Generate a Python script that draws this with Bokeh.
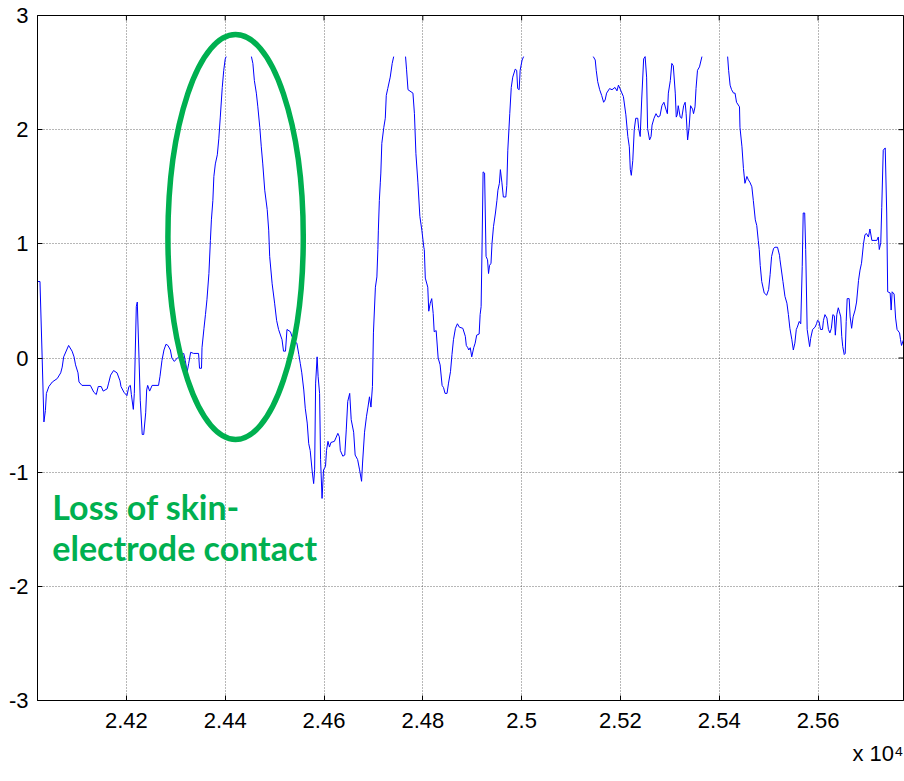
import math
from bokeh.plotting import figure
from bokeh.models import Range1d, FixedTicker, Title
from bokeh.models import Label
from bokeh.embed import file_html
from bokeh.resources import INLINE

nan = float("nan")

# ---- data (sample index, amplitude); NaN marks the clipped / lost segments ----
sig_x = [
    24021, 24025, 24029, 24033, 24036, 24038, 24043, 24050, 24060, 24067, 24070, 24073,
    24079, 24083, 24090, 24094, 24097, 24102, 24104, 24110, 24127, 24134, 24139, 24143,
    24149, 24153, 24161, 24164, 24168, 24174, 24181, 24187, 24189, 24195, 24201, 24205,
    24208, 24210, 24214, 24216, 24220, 24222, 24225, 24228, 24232, 24235, 24239, 24241,
    24243, 24247, 24252, 24265, 24268, 24272, 24276, 24280, 24284, 24289, 24292, 24297,
    24303, 24309, 24316, 24319, 24323, 24326, 24330, 24336, 24346, 24348, 24352, 24353,
    24357, 24360, 24363, 24367, 24370, 24372, 24375, 24377, 24380, 24384, 24387, 24390,
    24394, 24397, 24400, 24402,
    24427,
    24453, 24456, 24459, 24463, 24466, 24470, 24473, 24476, 24480, 24485, 24488, 24490,
    24495, 24500, 24504, 24508, 24515, 24518, 24522, 24525, 24532, 24535, 24542, 24545,
    24549, 24552, 24555, 24559, 24562, 24566, 24569, 24572, 24576, 24579, 24581, 24583,
    24586, 24588, 24591, 24593, 24596, 24599, 24603, 24605, 24608, 24611, 24614, 24621,
    24624, 24628, 24631, 24633, 24638, 24642, 24645, 24648, 24652, 24655, 24660, 24663,
    24668, 24672, 24676, 24678, 24682, 24686, 24689, 24692, 24695, 24698, 24700, 24704,
    24707, 24709, 24710, 24712, 24714, 24715, 24717, 24721, 24724, 24726, 24729, 24734,
    24738, 24741,
    24753,
    24765, 24767, 24770, 24780, 24783, 24786, 24790, 24794, 24798, 24802, 24803, 24805,
    24810, 24812, 24815, 24818, 24821, 24823, 24827, 24831, 24835, 24839, 24842, 24845,
    24849, 24852, 24856, 24859, 24862, 24866, 24870, 24874, 24881, 24886, 24888, 24891,
    24893, 24896, 24899, 24903, 24906, 24909, 24914, 24916, 24918, 24920, 24922, 24925,
    24928, 24931, 24933, 24935, 24938, 24940, 24943, 24947, 24950, 24952, 24955, 24957,
    24960, 24963, 24968, 24970, 24972, 24976, 24979, 24982, 24987, 24990, 24992, 24995,
    24997, 25001, 25004,
    25075,
    25145, 25149, 25151, 25154, 25158, 25162, 25166, 25169, 25172, 25178, 25183, 25189,
    25193, 25196, 25199, 25206, 25211, 25215, 25218, 25220, 25222, 25225, 25228, 25231,
    25235, 25237, 25240, 25243, 25247, 25250, 25253, 25255, 25259, 25262, 25264, 25268,
    25272, 25276, 25280, 25284, 25288, 25292, 25295, 25297, 25301, 25304, 25307, 25311,
    25313, 25315, 25317, 25321, 25324, 25328, 25331, 25333, 25336, 25339, 25342, 25346,
    25348, 25351, 25353, 25356, 25360, 25365,
    25390,
    25417, 25419, 25422, 25425, 25429, 25432, 25435, 25441, 25442, 25446, 25449, 25452,
    25456, 25459, 25462, 25466, 25469, 25473, 25476, 25479, 25481, 25483, 25486, 25491,
    25496, 25500, 25503, 25506, 25510, 25513, 25518, 25522, 25523, 25529, 25533, 25537,
    25540, 25543, 25547, 25550, 25553, 25556, 25558, 25562, 25565, 25568, 25570, 25573,
    25575, 25578, 25583, 25585, 25589, 25594, 25597, 25599, 25602, 25605, 25609, 25611,
    25614, 25618, 25621, 25624, 25627, 25630, 25633, 25635, 25638, 25641, 25643, 25646,
    25648, 25650, 25653, 25655, 25657, 25659, 25663, 25665, 25668, 25671, 25675, 25678,
    25682, 25685, 25688, 25692, 25695, 25698, 25702, 25705, 25709, 25719, 25722, 25724,
    25727, 25729, 25732, 25736, 25739, 25741, 25746, 25748, 25750, 25754, 25757, 25760,
    25765, 25767, 25769, 25773,
]

sig_y = [
    0.67, 0.67, 0.07, -0.56, -0.46, -0.31, -0.25, -0.21, -0.18, -0.13, -0.08, 0.01,
    0.07, 0.11, 0.06, 0.01, -0.06, -0.13, -0.21, -0.24, -0.24, -0.30, -0.32, -0.25,
    -0.25, -0.29, -0.27, -0.22, -0.15, -0.11, -0.13, -0.20, -0.25, -0.30, -0.33, -0.25,
    -0.24, -0.32, -0.45, -0.31, 0.45, 0.49, 0.07, -0.37, -0.67, -0.67, -0.48, -0.28,
    -0.24, -0.29, -0.24, -0.24, -0.16, -0.02, 0.07, 0.12, 0.11, 0.07, 0.00, -0.03,
    0.00, 0.02, 0.04, -0.02, -0.12, -0.05, 0.05, 0.04, 0.04, -0.09, -0.09, 0.09,
    0.26, 0.38, 0.51, 0.74, 1.03, 1.21, 1.38, 1.59, 1.70, 1.78, 1.92, 2.11,
    2.37, 2.52, 2.62, 2.64,
    nan,
    2.64, 2.58, 2.43, 2.32, 2.20, 2.02, 1.85, 1.70, 1.47, 1.30, 1.12, 0.89,
    0.65, 0.48, 0.33, 0.25, 0.16, 0.06, 0.06, 0.25, 0.23, 0.19, 0.14, 0.13,
    0.03, -0.05, -0.13, -0.28, -0.44, -0.57, -0.75, -0.81, -0.99, -1.10, -0.98, -0.22,
    0.01, -0.16, -0.31, -0.89, -1.23, -0.98, -0.95, -0.81, -0.73, -0.78, -0.74, -0.73,
    -0.70, -0.66, -0.69, -0.81, -0.86, -0.85, -0.63, -0.38, -0.31, -0.54, -0.65, -0.85,
    -0.89, -0.98, -1.08, -0.92, -0.65, -0.51, -0.43, -0.34, -0.43, -0.25, 0.22, 0.62,
    0.71, 0.95, 1.12, 1.38, 1.54, 1.62, 1.88, 2.02, 2.10, 2.30, 2.36, 2.46,
    2.58, 2.64,
    nan,
    2.64, 2.53, 2.35, 2.32, 2.14, 1.79, 1.54, 1.24, 1.12, 0.97, 0.95, 0.70,
    0.62, 0.41, 0.48, 0.52, 0.39, 0.23, 0.24, 0.00, -0.06, -0.24, -0.26, -0.31,
    -0.31, -0.22, -0.12, 0.03, 0.16, 0.26, 0.30, 0.27, 0.26, 0.19, 0.11, 0.09,
    0.07, 0.09, 0.01, 0.09, 0.13, 0.20, 0.21, 0.38, 0.45, 1.00, 1.63, 1.62,
    0.89, 0.86, 0.74, 0.81, 0.83, 1.00, 1.15, 1.27, 1.38, 1.47, 1.53, 1.65,
    1.54, 1.41, 1.41, 1.51, 1.82, 2.14, 2.37, 2.46, 2.53, 2.52, 2.36, 2.35,
    2.52, 2.61, 2.64,
    nan,
    2.64, 2.61, 2.52, 2.42, 2.35, 2.30, 2.24, 2.26, 2.32, 2.36, 2.35, 2.37,
    2.34, 2.39, 2.36, 2.29, 2.13, 1.94, 1.85, 1.65, 1.60, 1.73, 2.00, 2.10,
    2.10, 2.01, 1.94, 2.26, 2.62, 2.64, 2.46, 2.01, 1.91, 1.94, 2.04, 2.10,
    2.14, 2.11, 2.12, 2.21, 2.24, 2.18, 2.14, 2.32, 2.43, 2.58, 2.56, 2.32,
    2.11, 2.13, 2.21, 2.11, 2.10, 2.21, 2.24, 2.14, 1.91, 2.02, 2.21, 2.18,
    2.14, 2.20, 2.36, 2.52, 2.55, 2.64,
    nan,
    2.64, 2.52, 2.39, 2.35, 2.32, 2.32, 2.24, 2.20, 2.02, 1.85, 1.66, 1.53,
    1.59, 1.56, 1.54, 1.50, 1.38, 1.21, 1.16, 1.03, 0.95, 0.81, 0.67, 0.57,
    0.55, 0.60, 0.73, 0.89, 0.96, 0.97, 0.97, 0.90, 0.86, 0.67, 0.54, 0.48,
    0.38, 0.26, 0.16, 0.07, 0.13, 0.25, 0.27, 0.32, 0.30, 0.80, 1.27, 1.27,
    0.95, 0.25, 0.10, 0.17, 0.25, 0.27, 0.30, 0.33, 0.32, 0.25, 0.25, 0.33,
    0.38, 0.35, 0.25, 0.22, 0.26, 0.38, 0.37, 0.20, 0.38, 0.44, 0.41, 0.36,
    0.19, 0.10, 0.03, 0.04, 0.32, 0.52, 0.52, 0.36, 0.26, 0.36, 0.42, 0.49,
    0.68, 0.77, 0.83, 1.00, 1.08, 1.09, 1.06, 1.13, 1.03, 1.03, 1.06, 0.95,
    1.01, 1.32, 1.82, 1.84, 1.27, 0.58, 0.57, 0.42, 0.58, 0.56, 0.35, 0.25,
    0.22, 0.16, 0.11, 0.16,
]

x_ticks = [24200, 24400, 24600, 24800, 25000, 25200, 25400, 25600]
x_tick_labels = ["2.42", "2.44", "2.46", "2.48", "2.5", "2.52", "2.54", "2.56"]
y_ticks = [-3, -2, -1, 0, 1, 2, 3]
y_tick_labels = ["-3", "-2", "-1", "0", "1", "2", "3"]

annotation_text = ["Loss of skin-", "electrode contact"]
exponent_text = "x 10\u2074"

# ---- annotation geometry / styles ----
GREEN = "#00B050"
ELL_CX, ELL_CY, ELL_W, ELL_H = 24421, 1.06, 274, 3.55
TXT_X, TXT_Y1, TXT_Y2 = 24050, -1.30, -1.66

X_MIN, X_MAX = 24020, 25773
Y_MIN, Y_MAX = -3, 3

p = figure(
    width=904, height=781,
    x_range=Range1d(X_MIN, X_MAX), y_range=Range1d(Y_MIN, Y_MAX),
    output_backend="svg", toolbar_location=None,
    min_border_left=37, min_border_right=1, min_border_top=15, min_border_bottom=81,
    background_fill_color="white", border_fill_color="white",
)
p.outline_line_color = "black"
p.outline_line_width = 1

# axes
p.xaxis.ticker = FixedTicker(ticks=x_ticks)
p.xaxis.major_label_overrides = {t: l for t, l in zip(x_ticks, x_tick_labels)}
p.yaxis.ticker = FixedTicker(ticks=y_ticks)
p.yaxis.major_label_overrides = {t: l for t, l in zip(y_ticks, y_tick_labels)}
for ax in (p.xaxis[0], p.yaxis[0]):
    ax.axis_line_color = "black"
    ax.major_tick_in = 5
    ax.major_tick_out = 0
    ax.minor_tick_line_color = None
    ax.major_tick_line_color = "black"
    ax.major_label_text_font = "Liberation Sans"
    ax.major_label_text_font_size = "22px"
    ax.major_label_text_color = "black"
p.xaxis.major_label_standoff = 12
p.yaxis.major_label_standoff = 9

# exponent of the x axis, right-aligned below the tick labels
p.add_layout(Title(text=exponent_text, align="right", vertical_align="bottom",
                   text_font="Liberation Sans", text_font_size="22px",
                   text_font_style="normal", text_color="black", standoff=16), "below")

# grid
p.grid.grid_line_color = "#303030"
p.grid.grid_line_alpha = 0.7
p.grid.grid_line_dash = "1 2"
p.grid.grid_line_width = 1

# inward ticks on the top and right edges of the box (half of each dash is clipped)
p.scatter(x_ticks, [Y_MAX] * len(x_ticks), marker="dash", angle=math.pi / 2, size=10,
          line_color="black", line_width=1)
p.scatter([X_MAX] * len(y_ticks), y_ticks, marker="dash", size=10,
          line_color="black", line_width=1)

# signal
p.line(sig_x, sig_y, line_color="#0000FF", line_width=1)

# ellipse annotation
p.ellipse(x=[ELL_CX], y=[ELL_CY], width=ELL_W, height=ELL_H,
          fill_color=None, line_color=GREEN, line_width=5.5)

p.add_layout(Label(x=TXT_X, y=TXT_Y1, text=annotation_text[0], text_font="Lato",
                   text_font_style="bold", text_font_size="34px", text_color=GREEN,
                   text_baseline="alphabetic"))
p.add_layout(Label(x=TXT_X, y=TXT_Y2, text=annotation_text[1], text_font="Lato",
                   text_font_style="bold", text_font_size="34px", text_color=GREEN,
                   text_baseline="alphabetic"))

open("out.html", "w").write(file_html(p, INLINE))
